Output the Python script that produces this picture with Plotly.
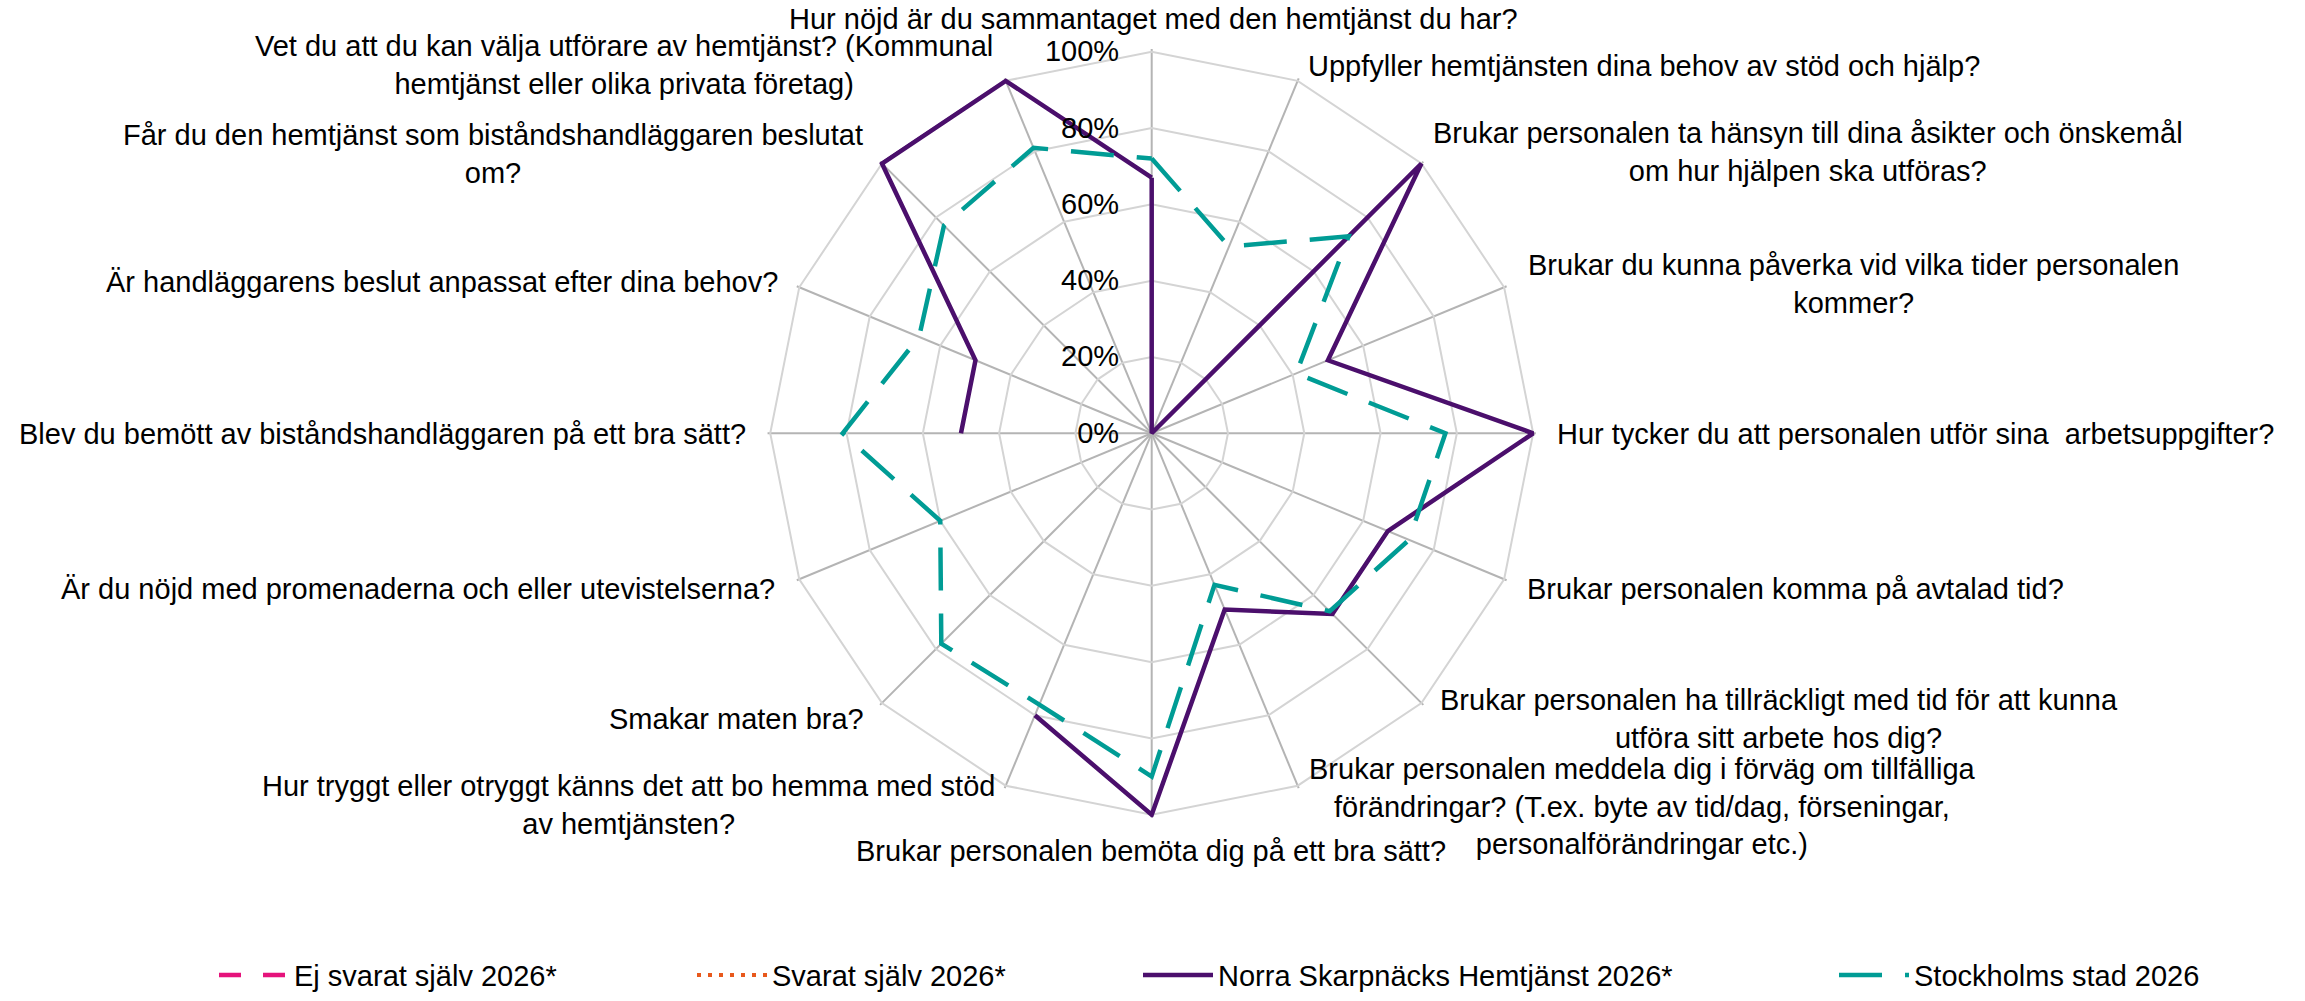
import plotly.graph_objects as go

categories = [
    "Hur nöjd är du sammantaget med den hemtjänst du har?",
    "Uppfyller hemtjänsten dina behov av stöd och hjälp?",
    "Brukar personalen ta hänsyn till dina åsikter och önskemål<br>om hur hjälpen ska utföras?",
    "Brukar du kunna påverka vid vilka tider personalen<br>kommer?",
    "Hur tycker du att personalen utför sina  arbetsuppgifter?",
    "Brukar personalen komma på avtalad tid?",
    "Brukar personalen ha tillräckligt med tid för att kunna<br>utföra sitt arbete hos dig?",
    "Brukar personalen meddela dig i förväg om tillfälliga<br>förändringar? (T.ex. byte av tid/dag, förseningar,<br>personalförändringar etc.)",
    "Brukar personalen bemöta dig på ett bra sätt?",
    "Hur tryggt eller otryggt känns det att bo hemma med stöd<br>av hemtjänsten?",
    "Smakar maten bra?",
    "Är du nöjd med promenaderna och eller utevistelserna?",
    "Blev du bemött av biståndshandläggaren på ett bra sätt?",
    "Är handläggarens beslut anpassat efter dina behov?",
    "Får du den hemtjänst som biståndshandläggaren beslutat<br>om?",
    "Vet du att du kan välja utförare av hemtjänst? (Kommunal<br>hemtjänst eller olika privata företag)",
]

ej_svarat = [None] * 16
svarat = [None] * 16
norra = [67, 0, 100, 50, 100, 67, 67, 50, 100, 80, None, None, 50, 50, 100, 100]
stockholm = [72, 53, 73, 41, 77, 73, 66, 43, 90, 77, 78, 60, 81, 66, 77, 81]

radial_ticks = [0, 20, 40, 60, 80, 100]
radial_labels = ["0%", "20%", "40%", "60%", "80%", "100%"]

# label placement (layout only): pixel anchor in the 2305x1001 page, horizontal anchor
label_pos = [
    (1153, 19, "center"), (1306, 66, "left"), (1808, 153, "center"), (1853, 285, "center"),
    (1555, 436, "left"), (1525, 591, "left"), (1779, 722, "center"), (1642, 810, "center"),
    (1151, 854, "center"), (628, 808, "center"), (866, 722, "right"), (777, 591, "right"),
    (748, 436, "right"), (780, 283, "right"), (493, 155, "center"), (624, 65, "center"),
]

FONT = "Arial, Liberation Sans, sans-serif"
FS = 29
W, H = 2305, 1001
cx, cy, R = 1151.7, 435, 383
RMAX = 100.7                 # tiny headroom so 100% lines are not clipped
Rd = R * RMAX / 100


def px(x):
    return x / W


def py(y):
    return 1 - y / H


def closed(v):
    return list(v) + [v[0]]


theta_c = closed(categories)

fig = go.Figure()
fig.add_trace(go.Scatterpolar(
    r=closed(ej_svarat), theta=theta_c, mode="lines", name="Ej svarat själv 2026*",
    line=dict(color="#E5137B", width=4.5, dash="22px,22px"), connectgaps=False, legend="legend"))
fig.add_trace(go.Scatterpolar(
    r=closed(svarat), theta=theta_c, mode="lines", name="Svarat själv 2026*",
    line=dict(color="#E8591C", width=4, dash="4px,7px"), connectgaps=False, legend="legend2"))
fig.add_trace(go.Scatterpolar(
    r=closed(norra), theta=theta_c, mode="lines", name="Norra Skarpnäcks Hemtjänst 2026*",
    line=dict(color="#4B0F6C", width=4.5), connectgaps=False, legend="legend3"))
fig.add_trace(go.Scatterpolar(
    r=closed(stockholm), theta=theta_c, mode="lines", name="Stockholms stad 2026",
    line=dict(color="#009C95", width=4.5, dash="43px,23px"), connectgaps=False, legend="legend4"))

legend_common = dict(orientation="h", yanchor="middle", y=py(979), xanchor="left",
                     itemwidth=70,
                     font=dict(family=FONT, size=FS, color="#000000"), bgcolor="rgba(0,0,0,0)")

annotations = [
    dict(text=cat, x=px(x), y=py(y), xref="paper", yref="paper", xanchor=xa, yanchor="middle",
         align="center", showarrow=False, font=dict(family=FONT, size=FS, color="#000000"))
    for cat, (x, y, xa) in zip(categories, label_pos)
]

fig.update_layout(
    width=W, height=H,
    margin=dict(l=0, r=0, t=0, b=0),
    paper_bgcolor="white", plot_bgcolor="white",
    font=dict(family=FONT, size=FS, color="#000000"),
    showlegend=True,
    polar=dict(
        domain=dict(x=[px(cx - Rd), px(cx + Rd)], y=[py(cy + Rd), py(cy - Rd)]),
        gridshape="linear",
        bgcolor="white",
        radialaxis=dict(
            range=[0, RMAX], tickvals=radial_ticks, ticktext=radial_labels,
            angle=90, tickangle=90, side="counterclockwise",
            showline=False, gridcolor="#D4D4D4", gridwidth=1.5,
            ticks="outside", ticklen=22, tickcolor="rgba(0,0,0,0)",
            tickfont=dict(family=FONT, size=FS, color="#000000"),
        ),
        angularaxis=dict(
            direction="clockwise", rotation=90, type="category",
            categoryarray=categories, showticklabels=False,
            showline=False,
            gridcolor="#B4B4B4", gridwidth=1.5, ticks="",
        ),
    ),
    annotations=annotations,
    legend=dict(legend_common, x=px(214)),
    legend2=dict(legend_common, x=px(692)),
    legend3=dict(legend_common, x=px(1138)),
    legend4=dict(legend_common, x=px(1834)),
)

fig.write_html("out.html", config={"displayModeBar": False},
               post_script="document.body.style.margin='0px';")
